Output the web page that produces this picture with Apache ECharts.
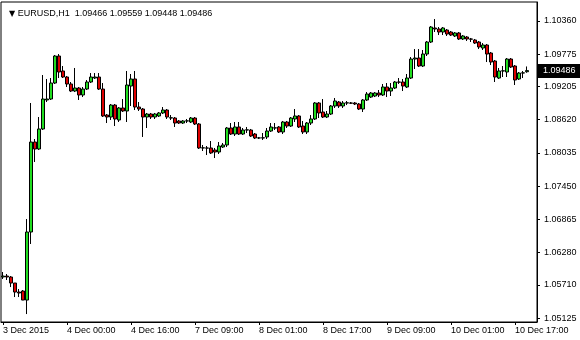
<!DOCTYPE html>
<html>
<head>
<meta charset="utf-8">
<script src="https://cdn.jsdelivr.net/npm/echarts@6/dist/echarts.min.js"></script>
<style>
html,body{margin:0;padding:0;background:#fff;}
#chart{width:580px;height:340px;}
</style>
</head>
<body>
<div id="chart"></div>
<script>
const symbol = 'EURUSD,H1';
const tickLabels = ['3 Dec 2015','4 Dec 00:00','4 Dec 16:00','7 Dec 09:00','8 Dec 01:00','8 Dec 17:00','9 Dec 09:00','10 Dec 01:00','10 Dec 17:00'];
const priceTicks = [1.10360,1.09775,1.09205,1.08620,1.08035,1.07450,1.06865,1.06280,1.05710,1.05125];

const open = [
1.05848,1.05865,1.05848,1.05742,1.05583,1.05601,1.05442,1.06641,1.08227,1.08104,
1.08457,1.08968,1.08985,1.09267,1.09743,1.09479,1.09373,1.09250,1.09126,1.09179,
1.09056,1.09161,1.09285,1.09355,1.09373,1.09161,1.08703,1.08668,1.08879,1.08615,
1.08827,1.08774,1.09214,1.09338,1.08844,1.08809,1.08668,1.08721,1.08668,1.08686,
1.08739,1.08791,1.08650,1.08650,1.08598,1.08562,1.08598,1.08580,1.08650,1.08545,
1.08122,1.08122,1.08122,1.08086,1.08051,1.08139,1.08175,1.08474,1.08368,1.08492,
1.08368,1.08439,1.08439,1.08368,1.08298,1.08298,1.08316,1.08421,1.08474,1.08492,
1.08404,1.08580,1.08509,1.08633,1.08686,1.08509,1.08404,1.08562,1.08633,1.08915,
1.08756,1.08668,1.08721,1.08862,1.08932,1.08862,1.08915,1.08915,1.08915,1.08897,
1.08809,1.08968,1.09020,1.09038,1.09091,1.09056,1.09197,1.09126,1.09179,1.09285,
1.09285,1.09197,1.09355,1.09690,1.09708,1.09567,1.09778,1.09990,1.10237,1.10219,
1.10166,1.10201,1.10166,1.10096,1.10149,1.10043,1.10078,1.10043,1.10025,1.09990,
1.09884,1.09937,1.09796,1.09655,1.09355,1.09479,1.09461,1.09690,1.09567,1.09338,
1.09443,1.09466];
const close = [
1.05865,1.05848,1.05742,1.05583,1.05566,1.05442,1.06641,1.08227,1.08104,1.08457,
1.08985,1.08985,1.09267,1.09743,1.09461,1.09373,1.09250,1.09126,1.09179,1.09056,
1.09161,1.09285,1.09373,1.09373,1.09161,1.08686,1.08668,1.08879,1.08633,1.08827,
1.08774,1.09232,1.09338,1.08844,1.08809,1.08668,1.08721,1.08668,1.08721,1.08739,
1.08791,1.08668,1.08655,1.08562,1.08562,1.08598,1.08600,1.08650,1.08545,1.08122,
1.08125,1.08120,1.08034,1.08051,1.08157,1.08175,1.08474,1.08368,1.08492,1.08368,
1.08439,1.08442,1.08333,1.08298,1.08300,1.08302,1.08421,1.08492,1.08477,1.08404,
1.08580,1.08509,1.08650,1.08686,1.08492,1.08404,1.08562,1.08633,1.08915,1.08739,
1.08668,1.08721,1.08862,1.08950,1.08862,1.08915,1.08918,1.08912,1.08897,1.08809,
1.08968,1.09073,1.09091,1.09091,1.09056,1.09197,1.09126,1.09179,1.09285,1.09282,
1.09214,1.09355,1.09690,1.09708,1.09567,1.09778,1.09990,1.10254,1.10219,1.10166,
1.10237,1.10131,1.10113,1.10149,1.10043,1.10096,1.10043,1.10040,1.09972,1.09902,
1.09937,1.09778,1.09637,1.09373,1.09479,1.09482,1.09690,1.09549,1.09320,1.09443,
1.09446,1.09486];
const low = [
1.05813,1.05795,1.05671,1.05495,1.05495,1.05440,1.05195,1.06430,1.07875,1.08086,
1.08439,1.08932,1.08968,1.09250,1.09355,1.09355,1.09197,1.09108,1.09108,1.08968,
1.09020,1.09144,1.09267,1.09338,1.09144,1.08668,1.08562,1.08615,1.08509,1.08580,
1.08756,1.08580,1.08862,1.08791,1.08774,1.08316,1.08474,1.08633,1.08633,1.08668,
1.08721,1.08633,1.08615,1.08492,1.08545,1.08545,1.08562,1.08562,1.08527,1.08104,
1.08069,1.07998,1.08016,1.07945,1.08016,1.08122,1.08139,1.08351,1.08333,1.08351,
1.08351,1.08386,1.08316,1.08280,1.08280,1.08263,1.08280,1.08404,1.08439,1.08386,
1.08368,1.08474,1.08492,1.08580,1.08474,1.08368,1.08368,1.08527,1.08615,1.08650,
1.08650,1.08650,1.08703,1.08827,1.08827,1.08827,1.08879,1.08897,1.08879,1.08791,
1.08756,1.08950,1.09003,1.09020,1.09020,1.09038,1.09020,1.09038,1.09161,1.09250,
1.09126,1.09179,1.09338,1.09514,1.09549,1.09549,1.09743,1.09972,1.10166,1.10113,
1.10113,1.10096,1.10096,1.10078,1.10025,1.10025,1.10008,1.09990,1.09955,1.09866,
1.09849,1.09637,1.09584,1.09285,1.09338,1.09373,1.09373,1.09532,1.09232,1.09320,
1.09355,1.09448];
const high = [
1.05936,1.05901,1.05865,1.05742,1.05636,1.05619,1.06870,1.08915,1.08280,1.08668,
1.09408,1.09338,1.09355,1.09761,1.09778,1.09567,1.09391,1.09285,1.09532,1.09197,
1.09197,1.09320,1.09443,1.09443,1.09443,1.09267,1.08721,1.08897,1.08897,1.08844,
1.08985,1.09479,1.09426,1.09479,1.08932,1.08827,1.08739,1.08739,1.08739,1.08756,
1.08844,1.08809,1.08703,1.08668,1.08615,1.08615,1.08633,1.08668,1.08668,1.08562,
1.08175,1.08157,1.08245,1.08122,1.08227,1.08210,1.08492,1.08562,1.08580,1.08580,
1.08474,1.08492,1.08457,1.08386,1.08316,1.08386,1.08474,1.08562,1.08562,1.08509,
1.08598,1.08598,1.08668,1.08809,1.08703,1.08598,1.08580,1.08703,1.08932,1.08932,
1.08985,1.08774,1.08879,1.09003,1.08950,1.08950,1.08950,1.08932,1.08932,1.08915,
1.08985,1.09108,1.09108,1.09108,1.09144,1.09250,1.09267,1.09267,1.09302,1.09355,
1.09338,1.09426,1.09725,1.09866,1.09866,1.09849,1.10008,1.10272,1.10395,1.10254,
1.10254,1.10219,1.10184,1.10166,1.10166,1.10113,1.10096,1.10061,1.10043,1.10008,
1.09972,1.09955,1.09814,1.09673,1.09532,1.09567,1.09708,1.09708,1.09584,1.09461,
1.09479,1.09559];

const nBars = open.length;
const emptySlots = 2; // chart shift on the right
const labelEvery = 16;

const cats = [];
for (let i = 0; i < nBars + emptySlots; i++) cats.push(String(i));
const ohlc = open.map((o, i) => [o, close[i], low[i], high[i]]);

const last = nBars - 1;
const titleText = '{tri|▼} ' + symbol + '  ' +
  [open[last], high[last], low[last], close[last]].map(v => v.toFixed(5)).join(' ');

const FONT = 'Liberation Sans';
const chart = echarts.init(document.getElementById('chart'), null, {renderer: 'canvas'});
chart.setOption({
  animation: false,
  backgroundColor: '#ffffff',
  title: {
    text: titleText,
    left: 4, top: 4,
    textStyle: {
      fontFamily: FONT, fontSize: 9, fontWeight: 'normal', color: '#000',
      rich: { tri: { fontFamily: 'DejaVu Sans', fontSize: 8, color: '#000' } }
    }
  },
  grid: {
    left: 1, top: 2, right: 43, bottom: 18,
    show: true, borderColor: '#000', borderWidth: 1, backgroundColor: '#fff'
  },
  xAxis: {
    type: 'category',
    data: cats,
    boundaryGap: true,
    axisLine: { show: true, lineStyle: { color: '#000', width: 1 } },
    axisTick: { show: true, interval: labelEvery - 1, alignWithLabel: true, length: 3, lineStyle: { color: '#000' } },
    axisLabel: {
      interval: labelEvery - 1,
      align: 'left',
      margin: 4,
      fontFamily: FONT, fontSize: 9, color: '#000',
      formatter: (v, idx) => tickLabels[Math.floor(idx / labelEvery)] || ''
    },
    splitLine: { show: false }
  },
  yAxis: {
    type: 'value',
    position: 'right',
    min: 1.05055, max: 1.10695,
    scale: true,
    axisLine: { show: true, lineStyle: { color: '#000', width: 1 } },
    axisTick: { show: true, inside: false, length: 3, customValues: priceTicks, lineStyle: { color: '#000' } },
    axisLabel: {
      customValues: priceTicks,
      margin: 7,
      fontFamily: FONT, fontSize: 9, color: '#000',
      formatter: v => v.toFixed(5)
    },
    splitLine: { show: false }
  },
  series: [{
    type: 'candlestick',
    data: ohlc,
    barWidth: 3,
    itemStyle: {
      color: '#20dd20',
      color0: '#dd0000',
      borderColor: '#000',
      borderColor0: '#000',
      borderColorDoji: '#000',
      borderWidth: 1
    }
  }]
});

// current-price tag on the price axis, positioned through the chart's own y scale
const yLast = chart.convertToPixel({ yAxisIndex: 0 }, close[last]);
chart.setOption({
  graphic: [{
    type: 'group',
    left: 538,
    top: Math.round(yLast) - 7,
    children: [
      { type: 'rect', shape: { x: 0, y: 0, width: 42, height: 14 }, style: { fill: '#000' } },
      { type: 'text', x: 5, y: 7, style: { text: close[last].toFixed(5), fill: '#fff', font: '9px "Liberation Sans"', textVerticalAlign: 'middle' } }
    ]
  }]
});
</script>
</body>
</html>
